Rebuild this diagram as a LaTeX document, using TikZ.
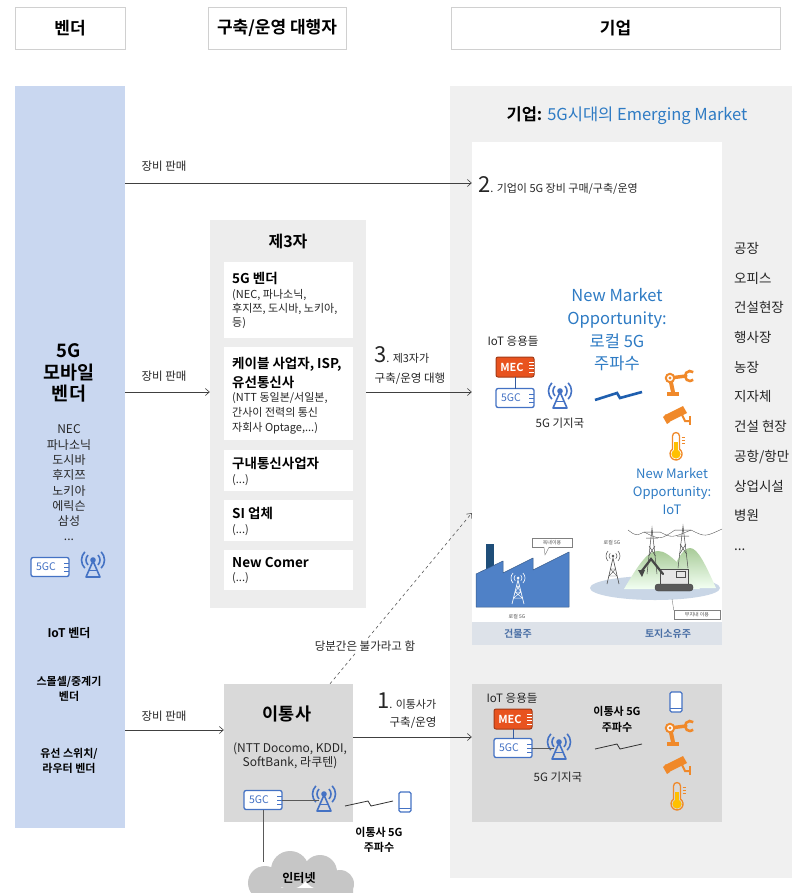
\documentclass[tikz,border=0pt]{standalone}
\usepackage{fontspec}
\setmainfont{Noto Sans CJK KR}[BoldFont={Noto Sans CJK KR Bold}]
\usetikzlibrary{arrows.meta,calc}
\newcommand\myfs[2]{\fontsize{#1}{#2}\selectfont}
\definecolor{colblue}{HTML}{C9D7F0}
\definecolor{entgray}{HTML}{F0F0F0}
\definecolor{boxgray}{HTML}{EDEDED}
\definecolor{darkgray}{HTML}{D9D9D9}
\definecolor{txtblue}{HTML}{2E7BC4}
\definecolor{icblue}{HTML}{4472C4}
\definecolor{mecred}{HTML}{E8531F}
\definecolor{orng}{HTML}{F0892A}
\definecolor{yel}{HTML}{FFC000}
\definecolor{hdrline}{HTML}{D0D0D0}
\definecolor{stripgray}{HTML}{DDE2E9}
\definecolor{facblue}{HTML}{4F81C7}
\definecolor{navy}{HTML}{1F4E79}
\definecolor{landblue}{HTML}{C9D6E6}
\definecolor{hillgreen}{HTML}{A8CB98}
\definecolor{striptxt}{HTML}{4A6FA5}
\definecolor{zigblue}{HTML}{1F5FAF}
\tikzset{
  pics/coreicon/.style={code={
    \draw[icblue, line width=1.3pt, fill=white, rounded corners=2pt] (-19,-9.5) rectangle (19,9.5);
    \node[text=icblue, font=\myfs{10.5}{10.5}, inner sep=0pt] (-t) at (-4,0) {5GC};
    \foreach \yy in {-4,0,4} \draw[icblue, line width=0.8pt] (14,\yy) -- (19,\yy);
    \coordinate (-e) at (19,0);
    \coordinate (-n) at (0,-9.5);
    \coordinate (-s) at (0,9.5);
  }},
  pics/mecicon/.style={code={
    \draw[draw=mecred!70!black, line width=1pt, fill=mecred, rounded corners=2pt] (-19,-10) rectangle (19,10);
    \node[text=white, font=\bfseries\myfs{11}{11}, inner sep=0pt] (-t) at (-3,0) {MEC};
    \foreach \yy in {-5,-1.7,1.7,5} \draw[white, line width=0.6pt] (14,\yy) -- (19,\yy);
    \coordinate (-s) at (0,10);
  }},
  pics/bsicon/.style={code={
    \draw[icblue, line width=1.6pt, line join=round] (0,-3) -- (-7,13) -- (7,13) -- cycle;
    \draw[icblue, line width=1.2pt] (-4.2,6.5) -- (4.2,6.5);
    \fill[icblue] (0,-4) circle (2.8pt);
    \foreach \r in {7,11.5} {
      \draw[icblue, line width=1.6pt] ([shift={(-45:\r pt)}]0,-4) arc[start angle=-45,end angle=45,radius=\r pt];
      \draw[icblue, line width=1.6pt] ([shift={(135:\r pt)}]0,-4) arc[start angle=135,end angle=225,radius=\r pt];
    }
    \coordinate (-w) at (-5,4);
  }},
  pics/phoneicon/.style={code={
    \draw[icblue, line width=1.2pt, fill=white, rounded corners=1.5pt] (-6,-10) rectangle (6,10);
    \draw[icblue, line width=0.8pt] (-6,6.5) -- (6,6.5);
  }},
  pics/roboticon/.style={code={
    \fill[orng] (-13,10) rectangle (-1,14);
    \draw[orng, line width=4pt, line cap=round] (-7,10) -- (-10,-4);
    \draw[orng, line width=3.5pt, line cap=round] (-10,-4) -- (6,-6);
    \draw[orng, line width=2pt, fill=white] (-10,-4) circle (4.2pt);
    \fill[orng] (-10,-4) circle (1.6pt);
    \draw[orng, line width=2.6pt] ([shift={(50:5pt)}]10,-6) arc[start angle=50,end angle=310,radius=5pt];
  }},
  pics/camicon/.style={code={
    \fill[orng] (-13,3) -- (5,-6) -- (9,1) -- (-9,10) -- cycle;
    \fill[orng] (-15,5) -- (-12,2) -- (-8,10) -- (-11,12) -- cycle;
    \draw[orng, line width=2pt] (4,3) -- (7,9) -- (12,9);
    \draw[orng, line width=2.4pt] (12,4) -- (12,13);
  }},
  pics/thermicon/.style={code={
    \fill[yel] (0,8) circle (4.6pt);
    \fill[yel] (-1.7,-4) rectangle (1.7,8);
    \draw[orng, line width=1.3pt, line join=round] (-3.5,3.1) -- (-3.5,-10) arc[start angle=180,end angle=0,radius=3.5pt] -- (3.5,3.1) arc[start angle=54.3,end angle=-234.3,radius=6pt] -- cycle;
    \foreach \yy in {-9,-6,-3} \draw[orng, line width=1pt] (5.5,\yy) -- (8.5,\yy);
  }},
}
\begin{document}
\begin{tikzpicture}[x=1pt,y=-1pt,
  every node/.style={inner sep=0pt},
  hdr/.style={draw=hdrline, fill=white, line width=0.6pt, font=\bfseries\myfs{17}{19}, minimum height=42pt},
  lbl/.style={font=\myfs{11.5}{13}, text=black!85},
  arr/.style={-{Straight Barb[length=4pt,width=7pt]}, line width=0.6pt, draw=black!75},
  subttl/.style={font=\bfseries\myfs{13.5}{19}, anchor=west, align=left},
  subtxt/.style={font=\myfs{11}{15}, anchor=west, align=left, text=black!85},
  wbox/.style={fill=white, minimum width=129pt},
  tiny/.style={font=\myfs{5}{6}, text=black!70}]
\useasboundingbox (0,0) rectangle (792,893);
\fill[white] (0,0) rectangle (792,893);

% column headers
\node[hdr, minimum width=110pt] (hvendor) at (70,28) {벤더};
\node[hdr, minimum width=138pt] (hbuild) at (277,28) {구축/운영 대행자};
\node[hdr, minimum width=329pt] (hent) at (615.5,28) {기업};

% vendor column
\node[fill=colblue, minimum width=110pt, minimum height=742pt] (vendcol) at (70,457) {};
\node[font=\bfseries\myfs{18.5}{21.5}, align=center] (v5g) at (69,373) {5G\\모바일\\벤더};
\node[font=\myfs{12}{15.3}, align=center, text=black!85] (vlist) at (69,483) {NEC\\파나소닉\\도시바\\후지쯔\\노키아\\에릭슨\\삼성\\...};
\pic (core0) at (50,567) {coreicon};
\pic (bs0) at (93,564) {bsicon};
\node[font=\bfseries\myfs{12}{14}] (viot) at (69,633) {IoT 벤더};
\node[font=\bfseries\myfs{11}{15}, align=center] (vsmall) at (69,689) {스몰셀/중계기\\벤더};
\node[font=\bfseries\myfs{11}{15}, align=center] (vwire) at (69,761) {유선 스위치/\\라우터 벤더};

% enterprise area
\node[fill=entgray, minimum width=342pt, minimum height=792pt] (entarea) at (621,482) {};
\node[font=\bfseries\myfs{16.5}{18}] (enttitle) at (627,116) {기업: \mdseries\color{txtblue}5G시대의 Emerging Market};
\node[fill=white, minimum width=250pt, minimum height=480pt] (panel) at (597,382) {};
\node[fill=stripgray, minimum width=250pt, minimum height=23pt] (strip) at (597,633.5) {};
\node[font=\bfseries\myfs{10}{10}, text=striptxt] (sl1) at (518,634) {건물주};
\node[font=\bfseries\myfs{10}{10}, text=striptxt] (sl2) at (668,634) {토지소유주};
\node[font=\myfs{13.5}{29.7}, align=left, anchor=west, text=black!85] (entlist) at (734,396.5) {공장\\오피스\\건설현장\\행사장\\농장\\지자체\\건설 현장\\공항/항만\\상업시설\\병원\\ ...};

% arrow 2: direct purchase
\draw[arr] (vendcol.east |- 0,183) -- (panel.west |- 0,183);
\node[lbl] (sale1) at (164,166) {장비 판매};
\node[anchor=base west, text=black!85] (t2) at (478,193) {\myfs{22}{22}2\myfs{11}{12}. 기업이 5G 장비 구매/구축/운영};

% local 5G setup in the panel
\node[lbl] (iot1) at (513,341) {IoT 응용들};
\pic (mec1) at (515,367) {mecicon};
\pic (core1) at (515,398) {coreicon};
\draw[icblue!80!black, line width=0.8pt] (mec1-s) -- (core1-n);
\pic (bs1) at (560,395) {bsicon};
\node[lbl] (bsl1) at (560,423) {5G 기지국};
\node[font=\myfs{16.5}{22.7}, align=center, text=txtblue] (opp1) at (617,330) {New Market\\Opportunity:\\로컬 5G\\주파수};
\draw[zigblue, line width=2.6pt, line join=miter] (595,400) -- (617,393) -- (620,398) -- (642,392);
\pic (rob1) at (680,382) {roboticon};
\pic (cam1) at (678,412) {camicon};
\pic (th1) at (676,446) {thermicon};
\node[font=\myfs{13}{18}, align=center, text=txtblue] (opp2) at (672,491) {New Market\\Opportunity:\\IoT};

% building owner picture
\fill[navy] (486,544) rectangle (494,572);
\draw[facblue!70!black, fill=facblue, line width=0.5pt, line join=round]
  (476,607) -- (476,574) -- (503,561) -- (503,573) -- (533,558) -- (533,570) -- (569,552) -- (569,607) -- cycle;
\draw[white, line width=0.7pt] (512,604) -- (518,580) -- (524,604);
\draw[white, line width=0.5pt] (513.5,598) -- (522.5,598) (515,592) -- (521,592) (516.5,586) -- (519.5,586)
  (513.5,598) -- (521,592) (515,592) -- (522.5,598) (515,592) -- (519.5,586) (516.5,586) -- (521,592);
\fill[white] (518,578) circle (1.5pt);
\foreach \r in {4,7} {
  \draw[white, line width=0.6pt] ([shift={(-45:\r pt)}]518,578) arc[start angle=-45,end angle=45,radius=\r pt];
  \draw[white, line width=0.6pt] ([shift={(135:\r pt)}]518,578) arc[start angle=135,end angle=225,radius=\r pt];
}
\node[draw=gray, fill=white, line width=0.4pt, minimum width=40pt, minimum height=9pt, tiny] (indoor) at (552,542.5) {옥내이용};
\draw[gray, fill=white, line width=0.4pt] ($(indoor.south)+(-8,0)$) -- (545,555) -- ($(indoor.south)+(-3,0)$);
\node[tiny] (loc1) at (517,617) {로컬 5G};

% land owner picture
\fill[landblue] (655,588) ellipse [x radius=65pt, y radius=12pt];
\shade[top color=hillgreen, bottom color=green!5] (664,588) .. controls (676,562) and (682,548) .. (690,548) .. controls (698,548) and (706,566) .. (716,588) -- cycle;
\shade[top color=hillgreen, bottom color=green!5] (624,589) .. controls (640,562) and (648,551) .. (658,551) .. controls (670,551) and (684,570) .. (700,589) -- cycle;
\foreach \tx/\ty/\tb in {652/528/574, 683/526/568} {
  \draw[gray!60!black, line width=0.5pt] (\tx-5,\tb) -- (\tx,\ty) -- (\tx+5,\tb);
  \draw[gray!60!black, line width=0.5pt] (\tx-8,\ty+4) -- (\tx+8,\ty+4) (\tx-6,\ty+10) -- (\tx+6,\ty+10)
    (\tx-3,\ty+18) -- (\tx+3.5,\ty+28) (\tx+3,\ty+18) -- (\tx-3.5,\ty+28);
}
\draw[gray!60!black, line width=0.35pt] (644,532) .. controls (660,540) .. (675,530) (660,532) .. controls (672,538) .. (691,530)
  (691,530) .. controls (705,537) .. (722,529) (644,532) .. controls (636,536) .. (628,530);
\fill[gray!20] (660,569) rectangle (688,584);
\draw[gray!60!black, line width=0.5pt] (660,569) rectangle (688,584);
\draw[gray!60!black, line width=0.4pt] (676,571) rectangle (685,577);
\draw[gray!50!black, fill=gray!70!black, rounded corners=3pt] (655,584) rectangle (693,591);
\draw[gray!55!black, line width=2.2pt, line cap=round] (663,574) -- (651,559) -- (641,572);
\fill[gray!55!black] (638,570) -- (645,570) -- (642,577) -- cycle;
\draw[gray!60!black, line width=0.6pt] (607,584) -- (613,558) -- (619,584);
\draw[gray!60!black, line width=0.4pt] (609,576) -- (617,576) (610.5,569) -- (615.5,569) (609,576) -- (615.5,569) (610.5,569) -- (617,576);
\fill[gray!60!black] (613,556) circle (1.4pt);
\foreach \r in {4,7} {
  \draw[gray!60!black, line width=0.5pt] ([shift={(-45:\r pt)}]613,556) arc[start angle=-45,end angle=45,radius=\r pt];
  \draw[gray!60!black, line width=0.5pt] ([shift={(135:\r pt)}]613,556) arc[start angle=135,end angle=225,radius=\r pt];
}
\node[tiny] (loc2) at (612,543) {로컬 5G};
\node[draw=gray, fill=white, line width=0.4pt, minimum width=46pt, minimum height=9pt, tiny] (onsite) at (697,615) {부지내 이용};
\draw[gray, line width=0.4pt] (672,599) -- (onsite.north west);

% third-party operators
\node[fill=boxgray, minimum width=156pt, minimum height=388pt] (tparty) at (288,414) {};
\node[font=\bfseries\myfs{16}{18}] (tptitle) at (288,242) {제3자};
\node[wbox, minimum height=76pt] (tb1) at (288.5,300) {};
\node[wbox, minimum height=93pt] (tb2) at (288.5,393.5) {};
\node[wbox, minimum height=41pt] (tb3) at (288.5,470.5) {};
\node[wbox, minimum height=41pt] (tb4) at (288.5,520.5) {};
\node[wbox, minimum height=40pt] (tb5) at (288.5,570) {};
\node[subttl] (tb1a) at (232,278) {5G 벤더};
\node[subtxt, font=\myfs{11}{14}] (tb1b) at (232,309.5) {(NEC, 파나소닉,\\후지쯔, 도시바, 노키아,\\등)};
\node[subttl] (tb2a) at (232,372.5) {케이블 사업자, ISP,\\유선통신사};
\node[subtxt] (tb2b) at (232,413) {(NTT 동일본/서일본,\\간사이 전력의 통신\\자회사 Optage,...)};
\node[subttl] (tb3a) at (232,463) {구내통신사업자};
\node[subtxt] (tb3b) at (232,480) {(...)};
\node[subttl] (tb4a) at (232,513) {SI 업체};
\node[subtxt] (tb4b) at (232,530) {(...)};
\node[subttl] (tb5a) at (232,562) {New Comer};
\node[subtxt] (tb5b) at (232,578) {(...)};

\draw[arr] (vendcol.east |- 0,392) -- (tparty.west |- 0,392);
\node[lbl] (sale2) at (164,376) {장비 판매};
\draw[arr] (tparty.east |- 0,392) -- (panel.west |- 0,392);
\node[anchor=base west, text=black!85] (t3) at (374,362) {\myfs{22}{22}3\myfs{11}{12}. 제3자가};
\node[lbl] (t3b) at (410,379) {구축/운영 대행};

% mobile carrier
\node[fill=darkgray, minimum width=129pt, minimum height=138pt] (carrier) at (288.5,753) {};
\node[font=\bfseries\myfs{17.5}{20}] (cartitle) at (287,714) {이통사};
\node[font=\myfs{12}{14}, align=center, text=black!85] (carlist) at (290,756) {(NTT Docomo, KDDI,\\SoftBank, 라쿠텐)};
\pic (core3) at (263,800) {coreicon};
\pic (bs3) at (324,798) {bsicon};
\draw[gray!70!black, line width=0.7pt] (core3-e) -- (core3-e -| bs3-w);
\draw[black!80, line width=0.8pt] (345,806) -- (368,801) -- (371,806) -- (393,801);
\pic (ph1) at (405,802) {phoneicon};
\node[font=\bfseries\myfs{11}{15.5}, align=center] (carfreq) at (379,840) {이통사 5G\\주파수};

% internet cloud
\coordinate (cloudtop) at (265,862);
\fill[gray!45] (265,883) circle (17pt) (290,870) circle (19pt) (320,872) circle (17pt) (340,884) circle (14pt) (252,888) rectangle (353,900);
\node[font=\bfseries\myfs{12}{13}] (inet) at (299,878) {인터넷};
\draw[gray!70!black, line width=0.7pt] (core3-s) -- (core3-s |- cloudtop);

\draw[arr] (vendcol.east |- 0,730) -- (carrier.west |- 0,730);
\node[lbl] (sale3) at (164,716) {장비 판매};

% carrier-operated enterprise network
\node[fill=darkgray, minimum width=250pt, minimum height=138pt] (mnobox) at (597,753) {};
\draw[arr] (carrier.east |- 0,737) -- (mnobox.west |- 0,737);
\node[anchor=base west, text=black!85] (t1) at (377,708) {\myfs{22}{22}1\myfs{11}{12}. 이통사가};
\node[lbl] (t1b) at (413,723) {구축/운영};
\node[lbl] (iot2) at (512,698) {IoT 응용들};
\pic (mec2) at (513,719) {mecicon};
\pic (core2) at (513,748) {coreicon};
\draw[icblue!80!black, line width=0.8pt] (mec2-s) -- (core2-n);
\pic (bs2) at (559,746) {bsicon};
\draw[gray!70!black, line width=0.7pt] (core2-e) -- (core2-e -| bs2-w);
\node[lbl] (bsl2) at (558,777) {5G 기지국};
\node[font=\bfseries\myfs{11}{15.5}, align=center] (mnofreq) at (617,719.5) {이통사 5G\\주파수};
\draw[black!80, line width=0.8pt] (595,749) -- (617,744) -- (620,749) -- (642,744);
\pic (ph2) at (676,702) {phoneicon};
\pic (rob2) at (680,732) {roboticon};
\pic (cam2) at (678,762) {camicon};
\pic (th2) at (677,796) {thermicon};

% not yet possible
\draw[arr, dashed, draw=black!65] (carrier.north -| 330,0) -- (panel.west |- 0,513);
\node[lbl, fill=white, inner sep=1.5pt] (notyet) at (365,646) {당분간은 불가라고 함};
\end{tikzpicture}
\end{document}
